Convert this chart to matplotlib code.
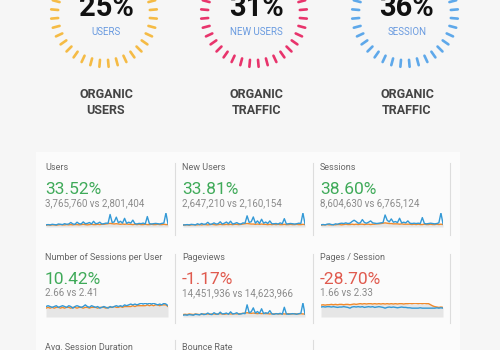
import math
import matplotlib.pyplot as plt

plt.rcParams['font.family'] = ['Roboto', 'DejaVu Sans']

W, H = 500, 350

# === GAUGES ===
gauge_values = [25, 31, 36]
gauge_labels = ['USERS', 'NEW USERS', 'SESSION']
gauge_titles = ['ORGANIC\nUSERS', 'ORGANIC\nTRAFFIC', 'ORGANIC\nTRAFFIC']
gauge_colors = ['#f5bb45', '#e8346c', '#5ea8ea']

# === KPI CARDS ===
card_titles = ['Users', 'New Users', 'Sessions',
               'Number of Sessions per User', 'Pageviews', 'Pages / Session']
card_changes = [33.52, 33.81, 38.60, 10.42, -1.17, -28.70]
card_compare = ['3,765,760 vs 2,801,404', '2,647,210 vs 2,160,154',
                '8,604,630 vs 6,765,124', '2.66 vs 2.41',
                '14,451,936 vs 14,623,966', '1.66 vs 2.33']
row3_titles = ['Avg. Session Duration', 'Bounce Rate']

# sparkline series (current period = blue, previous period = orange)
users_cur = [1.0, 1.1, 1.0, 1.2, 1.1, 1.0, 1.3, 1.2, 1.1, 1.4, 1.2, 1.3, 1.8, 1.3, 1.2,
             1.9, 1.4, 1.3, 2.0, 1.4, 1.5, 1.8, 1.3, 2.2, 1.4, 1.5, 1.9, 1.3, 1.4, 1.6,
             1.5, 4.5, 1.8, 2.0, 3.6, 1.7, 2.2, 1.6, 3.2, 1.5, 1.9, 1.6, 2.6, 1.4, 1.3,
             1.5, 1.4, 1.6, 1.3, 3.8, 1.4, 1.3, 1.4, 1.5, 1.4, 1.3, 1.5, 1.6, 5.0, 1.3]
users_prev = [0.9, 1.0, 0.9, 1.0, 1.0, 0.9, 1.0, 1.1, 1.0, 1.0, 1.1, 1.0, 1.1, 1.0, 1.1,
              1.1, 1.0, 1.1, 1.2, 1.1, 1.0, 1.1, 1.2, 1.1, 1.1, 1.2, 1.1, 1.2, 1.2, 1.3,
              1.4, 1.5, 1.4, 1.3, 1.4, 1.3, 1.2, 1.3, 1.2, 1.3, 1.2, 1.2, 1.1, 1.2, 1.1,
              1.2, 1.1, 1.1, 1.2, 1.1, 1.1, 1.2, 1.1, 1.1, 1.2, 1.1, 1.1, 1.2, 1.1, 1.1]
newusers_cur = [1.0, 1.0, 1.1, 1.0, 1.2, 1.1, 1.0, 1.4, 1.1, 1.5, 1.2, 1.3, 1.9, 1.2, 1.3,
                1.7, 1.3, 1.4, 2.1, 1.3, 1.6, 2.0, 1.4, 2.3, 1.3, 1.5, 1.8, 1.4, 1.3, 1.7,
                1.6, 4.2, 1.9, 2.1, 3.8, 1.6, 2.4, 1.5, 3.0, 1.6, 2.0, 1.5, 2.4, 1.4, 1.4,
                1.5, 1.3, 1.7, 1.4, 3.2, 1.3, 1.4, 1.5, 1.4, 1.3, 1.4, 1.6, 1.5, 5.2, 1.3]
newusers_prev = [0.9, 1.0, 1.0, 0.9, 1.0, 1.1, 1.0, 1.0, 1.1, 1.0, 1.1, 1.1, 1.0, 1.1, 1.2,
                 1.1, 1.0, 1.1, 1.2, 1.1, 1.1, 1.2, 1.1, 1.2, 1.1, 1.2, 1.2, 1.1, 1.2, 1.3,
                 1.4, 1.5, 1.4, 1.3, 1.3, 1.2, 1.3, 1.2, 1.3, 1.2, 1.2, 1.1, 1.2, 1.1, 1.2,
                 1.1, 1.2, 1.1, 1.1, 1.2, 1.1, 1.1, 1.2, 1.1, 1.1, 1.2, 1.1, 1.1, 1.2, 1.1]
sessions_cur = [1.0, 1.1, 1.0, 1.2, 1.3, 1.1, 1.0, 1.3, 1.2, 1.4, 1.5, 1.4, 1.6, 1.4, 1.5,
                2.0, 2.4, 2.0, 1.5, 1.6, 2.6, 1.7, 1.5, 1.8, 2.2, 1.6, 1.5, 1.4, 1.5, 1.6,
                1.7, 4.0, 2.4, 1.9, 2.8, 1.8, 2.0, 1.7, 3.0, 1.6, 1.8, 1.6, 2.2, 1.5, 1.4,
                1.5, 1.4, 1.5, 1.4, 3.2, 1.4, 1.3, 1.4, 1.5, 1.4, 1.3, 1.4, 1.6, 4.6, 1.3]
sessions_prev = [0.9, 1.0, 1.0, 1.1, 1.0, 1.0, 1.1, 1.0, 1.1, 1.1, 1.0, 1.1, 1.2, 1.1, 1.1,
                 1.2, 1.1, 1.2, 1.1, 1.2, 1.2, 1.1, 1.2, 1.2, 1.1, 1.2, 1.2, 1.3, 1.3, 1.4,
                 1.5, 1.6, 1.5, 1.4, 1.4, 1.3, 1.3, 1.3, 1.2, 1.3, 1.2, 1.2, 1.2, 1.2, 1.1,
                 1.2, 1.1, 1.2, 1.1, 1.1, 1.2, 1.1, 1.1, 1.2, 1.1, 1.1, 1.2, 1.1, 1.2, 1.1]
spu_cur = [4.0, 4.1, 4.0, 3.9, 4.0, 4.1, 3.9, 4.0, 4.1, 4.0, 3.9, 4.1, 4.0, 3.8, 4.0,
           4.1, 4.0, 3.9, 4.0, 4.2, 4.0, 3.9, 4.1, 4.0, 3.9, 4.0, 3.8, 3.9, 4.0, 3.9,
           3.8, 4.0, 3.9, 4.0, 4.1, 4.0, 4.1, 4.0, 4.2, 4.1, 4.2, 4.3, 4.2, 4.3, 4.2,
           4.3, 4.4, 4.3, 4.4, 4.3, 4.4, 4.3, 4.4, 4.3, 4.2, 4.3, 4.2, 4.4, 4.3, 4.1]
spu_prev = [3.8, 3.9, 3.8, 3.9, 3.8, 3.9, 3.9, 3.8, 3.9, 3.8, 3.9, 3.9, 3.8, 3.9, 3.9,
            3.8, 3.9, 3.9, 3.8, 3.9, 3.9, 3.8, 3.9, 3.9, 3.9, 3.8, 3.9, 3.9, 3.9, 3.8,
            3.9, 3.9, 3.9, 4.0, 3.9, 3.9, 4.0, 3.9, 4.0, 4.0, 4.0, 4.0, 4.1, 4.0, 4.1,
            4.1, 4.1, 4.1, 4.1, 4.2, 4.1, 4.2, 4.1, 4.2, 4.2, 4.1, 4.2, 4.2, 4.2, 4.0]
pv_cur = [1.0, 1.1, 1.0, 1.2, 1.1, 1.0, 1.3, 1.2, 1.1, 1.5, 1.2, 1.3, 1.7, 1.3, 1.2,
          1.8, 1.4, 1.3, 2.0, 1.4, 1.5, 1.7, 1.3, 2.1, 1.4, 1.5, 1.8, 1.3, 1.4, 1.6,
          1.5, 4.4, 1.8, 2.1, 3.4, 1.7, 2.2, 1.6, 3.1, 1.5, 1.8, 1.6, 2.5, 1.4, 1.3,
          1.5, 1.4, 1.6, 1.3, 3.6, 1.4, 1.3, 1.4, 1.5, 1.4, 1.3, 1.5, 1.6, 5.0, 1.3]
pv_prev = [1.2, 1.3, 1.2, 1.4, 1.3, 1.2, 1.4, 1.3, 1.2, 1.3, 1.4, 1.3, 1.4, 1.3, 1.4,
           1.4, 1.3, 1.4, 1.5, 1.4, 1.3, 1.4, 1.5, 1.4, 1.4, 1.5, 1.4, 1.5, 1.5, 1.6,
           1.7, 1.8, 1.7, 1.6, 1.7, 1.6, 1.5, 1.6, 1.5, 1.6, 1.5, 1.5, 1.4, 1.5, 1.4,
           1.5, 1.4, 1.4, 1.5, 1.4, 1.4, 1.5, 1.4, 1.4, 1.5, 1.4, 1.4, 1.5, 1.4, 1.4]
pps_cur = [3.3, 3.4, 3.3, 3.4, 3.4, 3.3, 3.4, 3.3, 3.2, 3.3, 3.3, 3.4, 3.3, 3.2, 3.0,
           3.3, 3.4, 3.3, 3.4, 3.3, 3.4, 3.2, 3.3, 3.4, 3.3, 3.4, 3.2, 3.3, 3.4, 3.3,
           3.2, 3.0, 3.2, 3.3, 3.2, 3.3, 3.2, 3.1, 3.2, 3.3, 3.2, 3.2, 3.1, 3.1, 3.0,
           3.0, 3.0, 3.0, 3.1, 3.0, 3.0, 3.0, 3.0, 3.0, 3.0, 3.0, 3.1, 3.0, 3.1, 3.0]
pps_prev = [3.8, 3.9, 3.8, 3.9, 3.9, 4.0, 3.9, 4.0, 3.9, 4.0, 4.0, 3.9, 4.0, 4.0, 3.9,
            4.0, 4.1, 4.0, 4.1, 4.2, 4.1, 4.2, 4.1, 4.2, 4.2, 4.1, 4.2, 4.1, 4.2, 4.1,
            4.2, 4.1, 4.2, 4.1, 4.2, 4.1, 4.2, 4.1, 4.2, 4.2, 4.1, 4.2, 4.2, 4.3, 4.2,
            4.3, 4.3, 4.2, 4.3, 4.2, 4.3, 4.2, 4.2, 3.9, 3.6, 3.4, 3.3, 3.2, 3.3, 3.2]

spark_series = [(users_cur, users_prev), (newusers_cur, newusers_prev),
                (sessions_cur, sessions_prev), (spu_cur, spu_prev),
                (pv_cur, pv_prev), (pps_cur, pps_prev)]

blue = '#3399d6'
orange = '#f08a2c'
green = '#3faa59'
red = '#e05a4e'

fig = plt.figure(figsize=(W / 100, H / 100), dpi=100)
fig.patch.set_facecolor('#f6f6f6')
ax = fig.add_axes([0, 0, 1, 1])
ax.set_xlim(0, W)
ax.set_ylim(H, 0)
ax.axis('off')

# fondo de las tarjetas (muy sutil)
ax.add_patch(plt.Rectangle((36, 152), 424, 200, color='#fbfbfb', zorder=0, lw=0))

# --- anillos ---
centers = [104, 254, 405]
r_in, r_out = 46, 53
for cx, val, lab, title, col in zip(centers, gauge_values, gauge_labels, gauge_titles, gauge_colors):
    for k in range(36):
        a = math.radians(k * 10 + 5)
        ca, sa = math.cos(a), math.sin(a)
        ax.plot([cx + r_in * ca, cx + r_out * ca], [14 + r_in * sa, 14 + r_out * sa],
                color=col, lw=1.9, solid_capstyle='round')
    ax.text(cx + 2, 16, f'{val}%', ha='center', va='baseline', fontsize=21,
            fontweight='bold', color='#111111')
    ax.text(cx + 2, 32, lab, ha='center', va='center', fontsize=7, color='#6a9be0')
    ax.text(cx + 2, 103, title, ha='center', va='center', fontsize=9,
            fontweight='bold', color='#444444', linespacing=1.3)

# --- tarjetas ---
col_x = [45, 182, 320]
row_y = [168, 258]
for i in range(6):
    r, c = divmod(i, 3)
    x0, y0 = col_x[c], row_y[r]
    ch = card_changes[i]
    ax.text(x0, y0, card_titles[i], ha='left', va='center', fontsize=6.5, color='#666666')
    ax.text(x0, y0 + 22, f'{ch:.2f}%', ha='left', va='center', fontsize=12.5,
            color=green if ch > 0 else red)
    ax.text(x0, y0 + 35, card_compare[i], ha='left', va='center', fontsize=7, color='#8a8a8a')

    sx, sy, sw, sh = x0 + 1, y0 + 45, 122, 14
    sax = fig.add_axes([sx / W, 1 - (sy + sh) / H, sw / W, sh / H])
    cur, prev = spark_series[i]
    xs = range(len(cur))
    lo = min(min(cur), min(prev))
    hi = max(max(cur), max(prev))
    if r == 1 and c != 1:
        bottom = lo - 1.8 * (hi - lo)
        sax.set_ylim(bottom, hi + 0.05 * (hi - lo))
    else:
        bottom = lo - 0.15 * (hi - lo)
        sax.set_ylim(bottom, hi)
    sax.fill_between(xs, bottom, prev, color='#e6e6e6', lw=0)
    sax.plot(xs, prev, color=orange, lw=1.0)
    sax.plot(xs, cur, color=blue, lw=1.0)
    sax.set_xlim(0, len(cur) - 1)
    sax.axis('off')

for r3, t in enumerate(row3_titles):
    ax.text(col_x[r3], 347, t, ha='left', va='center', fontsize=6.5, color='#666666')

# separadores
sep = '#dddddd'
for x in [175, 313, 450]:
    ax.plot([x, x], [163, 235], color=sep, lw=0.8)
    ax.plot([x, x], [254, 323], color=sep, lw=0.8)
for x in [175, 313]:
    ax.plot([x, x], [340, 350], color=sep, lw=0.8)

fig.savefig('out.png', dpi=100, facecolor=fig.get_facecolor())
